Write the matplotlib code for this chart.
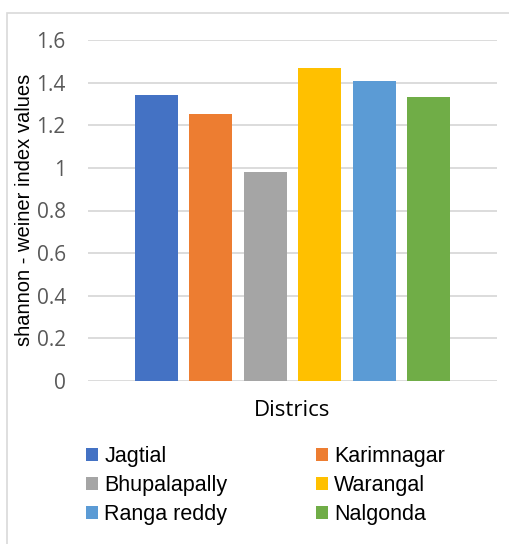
import matplotlib
matplotlib.use("Agg")
import matplotlib.pyplot as plt
from matplotlib.patches import Rectangle, Patch

districts = ["Jagtial", "Karimnagar", "Bhupalapally", "Warangal", "Ranga reddy", "Nalgonda"]
values = [1.343, 1.253, 0.981, 1.469, 1.408, 1.333]
colors = ["#4472C4", "#ED7D31", "#A5A5A5", "#FFC000", "#5B9BD5", "#70AD47"]
yticks = [0, 0.2, 0.4, 0.6, 0.8, 1, 1.2, 1.4, 1.6]
ytick_labels = ["0", "0.2", "0.4", "0.6", "0.8", "1", "1.2", "1.4", "1.6"]
xlabel = "Districs"
ylabel = "shannon - weiner index values"

W, H = 510, 544
fig = plt.figure(figsize=(W / 100, H / 100), dpi=100)
fig.patch.set_facecolor("white")

# chart border
fig.add_artist(Rectangle((7 / W, -0.1), 1.2, 1 - 13 / H + 0.1, transform=fig.transFigure,
                         fill=False, edgecolor="#D9D9D9", linewidth=1.2))

ax = fig.add_axes([88 / W, 1 - 381 / H, (497 - 88) / W, (381 - 40) / H])
x = list(range(len(districts)))
ax.bar(x, values, width=0.79, color=colors, zorder=3)
ax.set_xlim(-1.26, 6.26)
ax.set_ylim(0, 1.6)
ax.set_yticks(yticks)
ax.set_yticklabels(ytick_labels, fontfamily="Open Sans", fontsize=15, color="#595959")
ax.set_xticks([])
ax.tick_params(axis="y", length=0, pad=16)
for s in ax.spines.values():
    s.set_visible(False)
ax.grid(axis="y", color="#D9D9D9", linewidth=1.3, zorder=0)
ax.set_axisbelow(True)

fig.text(292 / W, 1 - 410 / H, xlabel, ha="center", va="center",
         fontfamily="Open Sans", fontsize=16, color="#000000")
fig.text(25 / W, 1 - 210 / H, ylabel, ha="center", va="center", rotation=90,
         fontfamily="Liberation Sans", fontsize=14.5, color="#000000")

order = [0, 2, 4, 1, 3, 5]
handles = [Patch(facecolor=colors[i], edgecolor="none") for i in order]
labels = [districts[i] for i in order]
leg = fig.legend(handles, labels, loc="upper left", ncol=2,
                 bbox_to_anchor=(86 / W, 1 - 446 / H), frameon=False,
                 prop={"family": "Liberation Sans", "size": 15.5},
                 handlelength=0.55, handleheight=0.55, handletextpad=0.3,
                 columnspacing=4.1, labelspacing=0.38, borderaxespad=0, borderpad=0)

fig.savefig("out.png", dpi=100, facecolor="white")
